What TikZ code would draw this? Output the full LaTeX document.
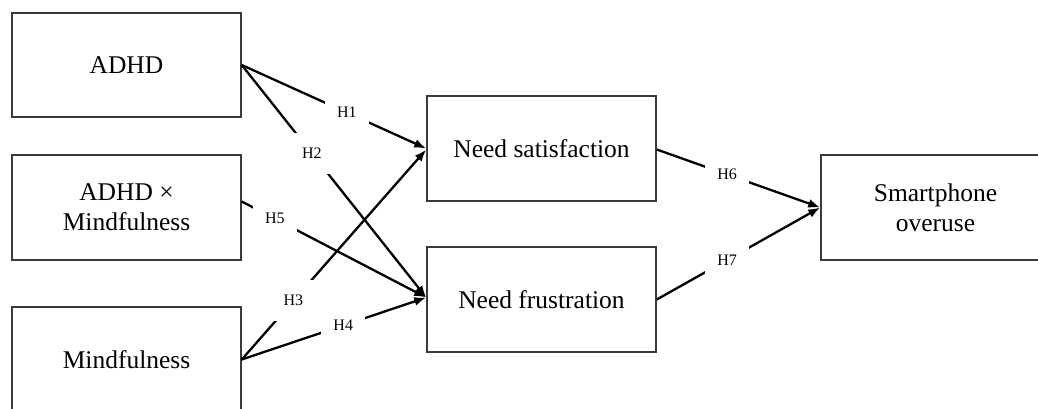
\documentclass[tikz,border=0pt]{standalone}
\usepackage{fontspec}
\setmainfont{Liberation Serif}
\usetikzlibrary{arrows.meta}
\definecolor{boxgray}{HTML}{3A3A3A}
\tikzset{
  box/.style={draw=boxgray, line width=1.5pt, minimum width=229pt, minimum height=105pt,
    inner sep=0pt, align=center, font=\fontsize{25.5}{30}\selectfont},
  link/.style={line width=2.3pt, -{Latex[length=12pt,width=9pt]}},
  lbl/.style={fill=white, inner xsep=12pt, inner ysep=15pt, font=\fontsize{16}{19}\selectfont}
}
\begin{document}
\begin{tikzpicture}[x=1pt,y=-1pt]
\clip (0,0) rectangle (1038,408);
\fill[white] (0,0) rectangle (1038,408);
\node[box, minimum height=104pt] (adhd) at (126.5,65) {ADHD};
\node[box] (inter) at (126.5,207.5) {ADHD ×\\Mindfulness};
\node[box] (mind) at (126.5,359.5) {Mindfulness};
\node[box] (sat) at (541.5,148.5) {Need satisfaction};
\node[box] (fru) at (541.5,299.5) {Need frustration};
\node[box] (smart) at (935.5,207.5) {Smartphone\\overuse};

\draw[link] (adhd.east) -- node[lbl,pos=0.57]{H1} (sat.west);
\draw[link] (adhd.east) -- node[lbl,pos=0.38]{H2} ([yshift=2pt]fru.west);
\draw[link] ([yshift=6pt]inter.east) -- node[lbl,pos=0.18]{H5} ([yshift=2pt]fru.west);
\draw[link] (mind.east) -- node[lbl,pos=0.28]{H3} ([yshift=-1pt]sat.west);
\draw[link] (mind.east) -- node[lbl,pos=0.55]{H4} ([yshift=2pt]fru.west);
\draw[link] ([yshift=-1pt]sat.east) -- node[lbl,pos=0.43]{H6} (smart.west);
\draw[link] (fru.east) -- node[lbl,pos=0.43]{H7} (smart.west);
\end{tikzpicture}
\end{document}
